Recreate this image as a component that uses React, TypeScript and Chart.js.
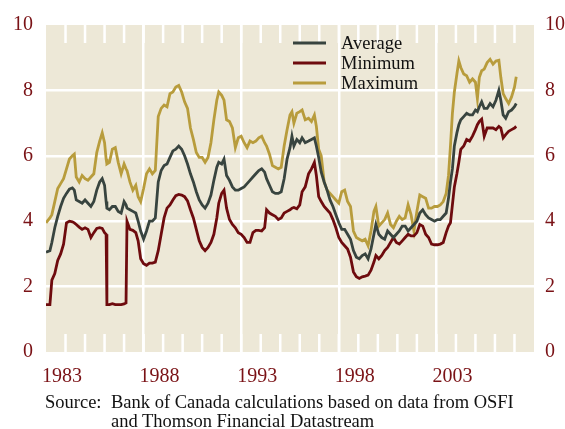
import React, { useEffect, useRef } from "react";
import { Chart, registerables } from "chart.js";

Chart.register(...registerables);

// Decimal-year dates shared by all three series
const dates = [
  1983.0, 1983.2, 1983.3, 1983.45, 1983.6, 1983.75, 1983.9, 1984.05, 1984.2, 1984.35,
  1984.45, 1984.55, 1984.7, 1984.85, 1985.0, 1985.15, 1985.3, 1985.45, 1985.6, 1985.75,
  1985.88, 1986.0, 1986.08, 1986.12, 1986.25, 1986.4, 1986.55, 1986.7, 1986.85, 1987.0,
  1987.1, 1987.15, 1987.3, 1987.45, 1987.6, 1987.72, 1987.85, 1988.0, 1988.15, 1988.3,
  1988.45, 1988.6, 1988.75, 1988.9, 1989.05, 1989.2, 1989.35, 1989.5, 1989.65, 1989.8,
  1989.95, 1990.1, 1990.25, 1990.4, 1990.55, 1990.7, 1990.85, 1991.0, 1991.15, 1991.3,
  1991.45, 1991.6, 1991.75, 1991.85, 1992.0, 1992.12, 1992.25, 1992.4, 1992.55, 1992.7,
  1992.85, 1993.0, 1993.15, 1993.3, 1993.45, 1993.6, 1993.75, 1993.9, 1994.05, 1994.2,
  1994.3, 1994.45, 1994.6, 1994.75, 1994.9, 1995.05, 1995.2, 1995.35, 1995.5, 1995.6,
  1995.7, 1995.85, 1996.0, 1996.12, 1996.28, 1996.45, 1996.6, 1996.75, 1996.85, 1996.97,
  1997.1, 1997.25, 1997.4, 1997.55, 1997.7, 1997.85, 1998.0, 1998.15, 1998.3, 1998.45,
  1998.6, 1998.75, 1998.9, 1999.05, 1999.2, 1999.35, 1999.5, 1999.65, 1999.8, 1999.9,
  2000.05, 2000.2, 2000.35, 2000.5, 2000.65, 2000.8, 2000.95, 2001.1, 2001.25, 2001.4,
  2001.55, 2001.7, 2001.85, 2002.0, 2002.15, 2002.3, 2002.45, 2002.6, 2002.75, 2002.9,
  2003.05, 2003.2, 2003.35, 2003.5, 2003.62, 2003.72, 2003.82, 2003.92, 2004.05, 2004.15,
  2004.25, 2004.4, 2004.55, 2004.7, 2004.85, 2005.0, 2005.1, 2005.2, 2005.32, 2005.45,
  2005.6, 2005.75, 2005.9, 2006.05, 2006.2, 2006.3, 2006.42, 2006.55, 2006.7, 2006.85,
  2007.0, 2007.09,
];

const average = [
  3.05, 3.1, 3.35, 3.8, 4.15, 4.45, 4.7, 4.85, 4.98, 5.02,
  4.95, 4.65, 4.6, 4.55, 4.65, 4.55, 4.45, 4.6, 4.95, 5.2,
  5.3, 5.1, 4.6, 4.4, 4.35, 4.45, 4.45, 4.3, 4.25, 4.6,
  4.5, 4.4, 4.35, 4.3, 4.25, 4.0, 3.7, 3.45, 3.7, 4.0,
  4.0, 4.1, 5.2, 5.55, 5.7, 5.75, 5.95, 6.15, 6.2, 6.3,
  6.2, 6.0, 5.75, 5.45, 5.2, 4.9, 4.65, 4.5, 4.4, 4.55,
  4.8, 5.25, 5.65, 5.8, 5.75, 5.9, 5.4, 5.25, 5.05, 4.95,
  4.95, 5.0, 5.05, 5.15, 5.25, 5.35, 5.45, 5.55, 5.6, 5.5,
  5.3, 5.1, 4.9, 4.85, 4.85, 4.9, 5.3, 5.9, 6.25, 6.6,
  6.3, 6.5, 6.4, 6.55, 6.4, 6.45, 6.5, 6.55, 6.3, 5.95,
  5.5, 5.2, 4.95, 4.65, 4.45, 4.2, 3.95, 3.75, 3.75, 3.6,
  3.45, 3.1, 2.9, 2.85, 2.95, 3.0, 2.85, 3.15, 3.6, 3.9,
  3.6, 3.5, 3.45, 3.7, 3.6, 3.5, 3.6, 3.7, 3.85, 3.85,
  3.7, 3.8, 3.9, 4.0, 4.25, 4.35, 4.2, 4.1, 4.05, 4.0,
  4.05, 4.05, 4.15, 4.25, 4.7, 5.2, 5.6, 6.3, 6.7, 6.95,
  7.1, 7.2, 7.3, 7.25, 7.25, 7.4, 7.35, 7.5, 7.65, 7.45,
  7.45, 7.6, 7.5, 7.7, 8.0, 7.7, 7.25, 7.15, 7.35, 7.4,
  7.5, 7.6,
];

const minimum = [
  1.45, 1.45, 2.2, 2.4, 2.8, 3.0, 3.3, 3.95, 4.0, 3.98,
  3.95, 3.9, 3.82, 3.75, 3.8, 3.75, 3.5, 3.65, 3.78, 3.8,
  3.78, 3.65, 3.6, 1.45, 1.45, 1.48, 1.45, 1.45, 1.45, 1.47,
  1.5, 4.0, 3.75, 3.72, 3.65, 3.4, 2.85, 2.7, 2.65, 2.72,
  2.72, 2.75, 3.1, 3.6, 4.1, 4.4, 4.5, 4.65, 4.78, 4.82,
  4.8, 4.75, 4.62, 4.35, 4.1, 3.75, 3.4, 3.2, 3.1, 3.2,
  3.35, 3.6, 4.1, 4.55, 4.85, 4.95, 4.4, 4.05, 3.9, 3.8,
  3.65, 3.6, 3.5, 3.35, 3.35, 3.65, 3.72, 3.72, 3.7, 3.8,
  4.35, 4.25, 4.2, 4.15, 4.05, 4.1, 4.25, 4.3, 4.35, 4.4,
  4.42, 4.38, 4.5, 4.9, 5.05, 5.45, 5.6, 5.8, 5.4, 4.75,
  4.6, 4.45, 4.35, 4.25, 4.05, 3.8, 3.5, 3.35, 3.25, 3.15,
  2.9, 2.45, 2.3, 2.25, 2.3, 2.32, 2.35, 2.5, 2.75, 2.95,
  2.85, 2.95, 3.1, 3.2, 3.35, 3.5, 3.35, 3.3, 3.4, 3.5,
  3.6, 3.55, 3.55, 3.65, 3.9, 3.85, 3.6, 3.5, 3.3, 3.28,
  3.28, 3.3, 3.35, 3.65, 3.85, 3.95, 4.5, 5.05, 5.45, 5.8,
  6.2, 6.3, 6.5, 6.45, 6.6, 6.8, 6.95, 7.05, 7.12, 6.6,
  6.85, 6.85, 6.85, 6.8, 6.9, 6.85, 6.55, 6.65, 6.75, 6.8,
  6.85, 6.9,
];

const maximum = [
  3.95, 4.1, 4.2, 4.6, 5.0, 5.15, 5.3, 5.6, 5.9, 6.0,
  6.05, 5.35, 5.2, 5.4, 5.3, 5.25, 5.35, 5.45, 6.1, 6.45,
  6.7, 6.4, 5.9, 5.75, 5.8, 6.2, 6.25, 5.8, 5.45, 5.75,
  5.6, 5.55, 5.2, 4.95, 5.1, 4.75, 4.6, 5.0, 5.45, 5.6,
  5.45, 5.55, 7.2, 7.45, 7.55, 7.5, 7.9, 7.95, 8.1, 8.15,
  7.95, 7.65, 7.45, 6.85, 6.5, 6.1, 5.95, 5.95, 5.8, 5.95,
  6.4, 7.1, 7.7, 7.95, 7.85, 7.7, 7.1, 7.05, 6.85, 6.25,
  6.55, 6.6, 6.4, 6.25, 6.45, 6.4, 6.45, 6.55, 6.6, 6.4,
  6.3, 6.05, 5.7, 5.65, 5.6, 5.65, 6.3, 6.8, 7.25, 7.35,
  7.0, 7.3, 7.35, 7.4, 7.1, 7.15, 7.05, 7.25, 6.9, 6.2,
  6.0, 5.2, 4.95, 4.85, 4.75, 4.65, 4.55, 4.9, 4.95, 4.6,
  4.45, 3.7, 3.5, 3.45, 3.4, 3.45, 3.25, 3.7, 4.3, 4.45,
  3.85, 3.95, 4.05, 4.25, 3.9, 3.8, 4.0, 4.15, 4.05, 4.1,
  4.5, 4.2, 3.7, 4.3, 4.8, 4.75, 4.7, 4.4, 4.4, 4.45,
  4.45, 4.5, 4.6, 4.85, 5.4, 6.3, 7.3, 7.95, 8.5, 8.9,
  8.7, 8.5, 8.45, 8.25, 8.35, 8.25, 7.75, 8.4, 8.6, 8.65,
  8.85, 8.95, 8.8, 8.9, 8.92, 8.4, 7.9, 7.75, 7.6, 7.8,
  8.1, 8.42,
];

const seriesNames = ["Average", "Minimum", "Maximum"];
const seriesColors = ["#38443f", "#6e0b0e", "#b89c3c"];
const yTickValues = [0, 2, 4, 6, 8, 10];
const xTickYears = [1983, 1988, 1993, 1998, 2003, 2008];
const xLabelYears = [1983, 1988, 1993, 1998, 2003];
const gridYears = [1988, 1993, 1998, 2003];

const TICK_COLOR = "#7a1216";
const BG = "#ede8d7";
const FONT = "'Liberation Serif', 'Times New Roman', serif";

export default function App() {
  const ref = useRef<HTMLCanvasElement>(null);

  useEffect(() => {
    const canvas = ref.current;
    if (!canvas) return;

    const bgPlugin = {
      id: "bgPlugin",
      beforeDraw(chart: any) {
        const { ctx, chartArea } = chart;
        ctx.save();
        ctx.fillStyle = BG;
        ctx.fillRect(chartArea.left, chartArea.top, chartArea.right - chartArea.left, chartArea.bottom - chartArea.top);
        ctx.restore();
      },
      beforeDatasetsDraw(chart: any) {
        const { ctx, chartArea, scales } = chart;
        ctx.save();
        ctx.strokeStyle = "#ffffff";
        ctx.lineWidth = 2.5;
        for (let yr = 1984; yr <= 2007; yr++) {
          const px = scales.x.getPixelForValue(yr);
          ctx.beginPath();
          ctx.moveTo(px, chartArea.top);
          ctx.lineTo(px, chartArea.top + 18);
          ctx.moveTo(px, chartArea.bottom);
          ctx.lineTo(px, chartArea.bottom - 18);
          ctx.stroke();
        }
        ctx.restore();
      },
      afterDatasetsDraw(chart: any) {
        const { ctx } = chart;
        ctx.save();
        ctx.font = `18.5px ${FONT}`;
        ctx.textBaseline = "middle";
        ctx.textAlign = "left";
        seriesNames.forEach((name, i) => {
          const y = 43 + i * 20;
          ctx.strokeStyle = seriesColors[i];
          ctx.lineWidth = 3;
          ctx.beginPath();
          ctx.moveTo(293, y);
          ctx.lineTo(326, y);
          ctx.stroke();
          ctx.fillStyle = "#111111";
          ctx.fillText(name, 341, y + 1);
        });
        ctx.restore();
      },
    };

    const mk = (vals: number[]) => dates.map((d, i) => ({ x: d, y: vals[i] }));
    const seriesValues = [average, minimum, maximum];

    const chart = new Chart(canvas, {
      type: "line",
      data: {
        datasets: seriesNames.map((name, i) => ({
          label: name,
          data: mk(seriesValues[i]),
          borderColor: seriesColors[i],
          backgroundColor: seriesColors[i],
          borderWidth: 2.8,
          pointRadius: 0,
          tension: 0,
          fill: false,
        })),
      },
      options: {
        animation: false,
        responsive: false,
        events: [],
        layout: { padding: { top: 21, left: 0, right: 0, bottom: 0 } },
        plugins: { legend: { display: false }, tooltip: { enabled: false } },
        scales: {
          x: {
            type: "linear",
            min: 1983,
            max: 2008,
            border: { display: false },
            grid: {
              drawTicks: false,
              lineWidth: 2.5,
              color: (c: any) => (gridYears.includes(c.tick?.value) ? "#ffffff" : "rgba(0,0,0,0)"),
            },
            afterBuildTicks: (s: any) => {
              s.ticks = xTickYears.map((v) => ({ value: v }));
            },
            ticks: {
              autoSkip: false,
              maxRotation: 0,
              padding: 13,
              labelOffset: 16,
              color: TICK_COLOR,
              font: { family: FONT, size: 20 },
              callback: (v: any) => (xLabelYears.includes(Number(v)) ? String(v) : ""),
            },
            afterFit: (s: any) => {
              s.height = 43;
            },
          },
          y: {
            position: "left",
            min: 0,
            max: 10,
            border: { display: false },
            grid: {
              drawTicks: false,
              lineWidth: 2.5,
              color: (c: any) => (c.tick && c.tick.value > 0 && c.tick.value < 10 ? "#ffffff" : "rgba(0,0,0,0)"),
            },
            afterBuildTicks: (s: any) => {
              s.ticks = yTickValues.map((v) => ({ value: v }));
            },
            ticks: {
              padding: 13,
              color: TICK_COLOR,
              font: { family: FONT, size: 20 },
            },
            afterFit: (s: any) => {
              s.width = 46;
            },
          },
          y2: {
            position: "right",
            min: 0,
            max: 10,
            border: { display: false },
            grid: { display: false, drawTicks: false },
            afterBuildTicks: (s: any) => {
              s.ticks = yTickValues.map((v) => ({ value: v }));
            },
            ticks: {
              padding: 11,
              color: TICK_COLOR,
              font: { family: FONT, size: 20 },
            },
            afterFit: (s: any) => {
              s.width = 31;
            },
          },
        },
      },
      plugins: [bgPlugin],
    });

    return () => chart.destroy();
  }, []);

  return (
    <div style={{ position: "absolute", left: 0, top: 0, width: 565, height: 429, background: "#ffffff" }}>
      <canvas ref={ref} width={565} height={395} style={{ display: "block", width: 565, height: 395 }} />
      <div
        style={{
          position: "absolute",
          left: 45,
          top: 393,
          fontFamily: FONT,
          fontSize: "18.5px",
          lineHeight: "19px",
          color: "#111111",
          display: "flex",
          whiteSpace: "nowrap",
        }}
      >
        <div style={{ width: 66 }}>Source:</div>
        <div>
          Bank of Canada calculations based on data from OSFI
          <br />
          and Thomson Financial Datastream
        </div>
      </div>
    </div>
  );
}
